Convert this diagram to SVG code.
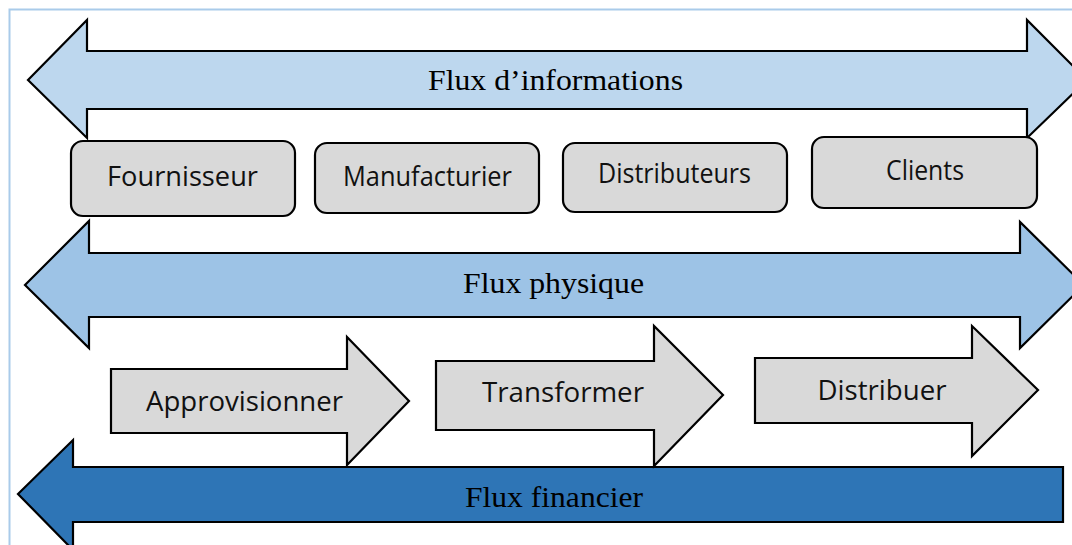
<svg xmlns="http://www.w3.org/2000/svg" width="1072" height="545" viewBox="0 0 1072 545">
  <style>
    .flow { stroke: #000; stroke-width: 2.2; stroke-linejoin: miter; }
    .info { fill: #BDD7EE; }
    .phys { fill: #9DC3E6; }
    .fin { fill: #2E75B6; }
    .step { fill: #D9D9D9; stroke: #000; stroke-width: 2.2; }
    .actor { fill: #D9D9D9; stroke: #000; stroke-width: 2.2; }
    .serif { font-family: "Liberation Serif", "Times New Roman", serif; font-size: 30px; fill: #000; text-anchor: middle; }
    .sans { font-family: "Open Sans", "Noto Sans", sans-serif; font-size: 27px; fill: #111; text-anchor: middle; }
  </style>

  <rect width="1072" height="545" fill="#fff"/>
  <!-- page frame -->
  <path d="M9.5 545 V9.5 H1072" fill="none" stroke="#A9CBEA" stroke-width="2"/>

  <!-- flow bands -->
  <g id="flows">
    <g id="flux-informations">
      <path class="flow info" d="M28 80 L87 20 V51 H1027 V20 L1087 80 L1027 138 V109 H87 V138 Z"/>
      <text class="serif" x="555.5" y="90" textLength="255" lengthAdjust="spacingAndGlyphs">Flux d’informations</text>
    </g>
    <g id="flux-physique">
      <path class="flow phys" d="M25 285 L89 221 V253 H1020 V222 L1084 285 L1020 348 V317 H89 V348 Z"/>
      <text class="serif" x="553.5" y="293" textLength="181" lengthAdjust="spacingAndGlyphs">Flux physique</text>
    </g>
    <g id="flux-financier">
      <path class="flow fin" d="M18 494 L73 440 V467 H1063 V522 H73 V550 Z"/>
      <text class="serif" x="554" y="507" textLength="178" lengthAdjust="spacingAndGlyphs">Flux financier</text>
    </g>
  </g>

  <!-- actors -->
  <g id="fournisseur">
    <rect class="actor" x="71" y="141" width="224" height="75" rx="12"/>
    <text class="sans" x="182.5" y="186" textLength="151" lengthAdjust="spacingAndGlyphs">Fournisseur</text>
  </g>
  <g id="manufacturier">
    <rect class="actor" x="315" y="143" width="224" height="70" rx="12"/>
    <text class="sans" x="427.5" y="186" textLength="169" lengthAdjust="spacingAndGlyphs">Manufacturier</text>
  </g>
  <g id="distributeurs">
    <rect class="actor" x="563" y="143" width="224" height="69" rx="12"/>
    <text class="sans" x="674.5" y="183" textLength="153" lengthAdjust="spacingAndGlyphs">Distributeurs</text>
  </g>
  <g id="clients">
    <rect class="actor" x="812" y="137" width="225" height="71" rx="12"/>
    <text class="sans" x="925" y="180" textLength="78" lengthAdjust="spacingAndGlyphs">Clients</text>
  </g>

  <!-- process steps -->
  <g id="approvisionner">
    <path class="step" d="M111 369 H347 V337 L409 401 L347 465 V433 H111 Z"/>
    <text class="sans" x="244.5" y="411" textLength="197" lengthAdjust="spacingAndGlyphs">Approvisionner</text>
  </g>
  <g id="transformer">
    <path class="step" d="M436 361 H654 V326 L723 395 L654 466 V430 H436 Z"/>
    <text class="sans" x="563" y="402" textLength="162" lengthAdjust="spacingAndGlyphs">Transformer</text>
  </g>
  <g id="distribuer">
    <path class="step" d="M755 358 H972 V326 L1038 390 L972 456 V423 H755 Z"/>
    <text class="sans" x="882" y="400" textLength="129" lengthAdjust="spacingAndGlyphs">Distribuer</text>
  </g>
</svg>
